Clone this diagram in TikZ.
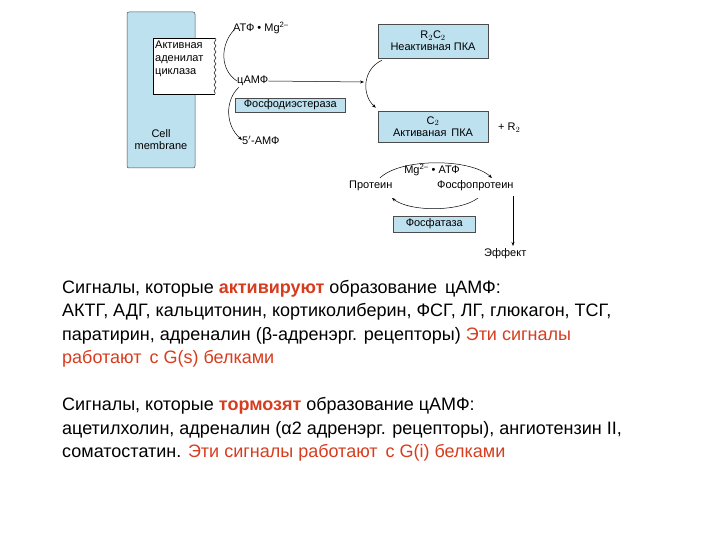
\documentclass[tikz,border=0pt]{standalone}
\usepackage{fontspec}
\setmainfont{Liberation Sans}
\usetikzlibrary{arrows.meta,decorations.pathmorphing,calc}
\definecolor{lb}{RGB}{190,225,240}
\definecolor{rd}{RGB}{215,60,30}
\begin{document}
\begin{tikzpicture}[x=1pt,y=-1pt,
 bx/.style={draw=black!70,fill=lb,line width=0.5pt},
 sm/.style={font=\fontsize{11}{12}\selectfont,inner sep=0pt},
 ar/.style={-{Stealth[length=4pt]},line width=0.5pt},
 big/.style={font=\fontsize{18}{23.5}\selectfont,align=left,anchor=north west,inner sep=0pt}]
\useasboundingbox (0,0) rectangle (720,540);
% membrane
\draw[bx,rounded corners=2pt] (127,12) rectangle (195,168);
\node[sm,align=center] (cm) at (161,140) {Cell\\membrane};
\fill[white] (153,38) rectangle (215,94);
\draw[line width=0.5pt] (215,38) -- (153,38) -- (153,94) -- (215,94);
\draw[line width=0.5pt,decorate,decoration={snake,amplitude=1pt,segment length=6pt}] (215,38) -- (215,94);
\node[sm,align=left,anchor=north west] (ac) at (155,41) {Активная\\[1pt]аденилат\\[1pt]циклаза};
% left chain
\node[sm,anchor=west] (atp) at (233,28) {АТФ • Mg\textsuperscript{2–}};
\node[sm,anchor=west] (camp) at (237,81) {цАМФ};
\node[sm,bx,anchor=west,inner xsep=3pt,inner ysep=2pt,minimum width=110pt] (pde) at (235,105) {Фосфодиэстераза};
\node[sm,anchor=west] (amp) at (242,140) {5$'$-АМФ};
\draw[line width=0.5pt] (234,30) .. controls (220,45) and (220,70) .. (camp.west);
\draw[ar] ($(camp.south west)+(2,1)$) .. controls (225,100) and (225,125) .. (amp.west);
% PKA
\node[sm,bx,align=center,minimum width=110pt,minimum height=34pt] (r2c2) at (433,41) {R$_2$C$_2$\\Неактивная ПКА};
\node[sm,bx,align=center,minimum width=110pt,minimum height=31pt] (c2) at (433,126.5) {C$_2$\\Активаная\, ПКА};
\node[sm,anchor=west] (r2) at (498,128) {+ R$_2$};
\coordinate (hit) at (364,82);
\draw[ar] (camp.east) -- (hit);
\draw[ar] ($(r2c2.south west)+(4,2)$) .. controls (362,70) and (362,95) .. ($(c2.north west)+(-2,-3)$);
% cycle
\node[sm,anchor=west] (prot) at (349,186) {Протеин};
\node[sm,anchor=west] (pp) at (437,186) {Фосфопротеин};
\node[sm] (mg) at (432,170) {Mg\textsuperscript{2–} • АТФ};
\node[sm,bx,inner xsep=3pt,inner ysep=3pt,minimum width=82pt,anchor=west] (ph) at (393,224) {Фосфатаза};
\node[sm,anchor=west] (eff) at (484,254) {Эффект};
\draw[ar] (380,178) .. controls (400,158) and (470,158) .. (492,178);
\draw[ar] (478,198) .. controls (460,212) and (410,212) .. (392,198);
\draw[ar] (513,196) -- (513,246);
% text
\node[big] (t1) at (62,280) {Сигналы, которые \textcolor{rd}{\textbf{активируют}} образование\, цАМФ:\\
АКТГ, АДГ, кальцитонин, кортиколиберин, ФСГ, ЛГ, глюкагон, ТСГ,\\
паратирин, адреналин (β-адренэрг. рецепторы) \textcolor{rd}{Эти сигналы}\\
\textcolor{rd}{работают\, с G(s) белками}\\[23.5pt]
Сигналы, которые \textcolor{rd}{\textbf{тормозят}} образование цАМФ:\\
ацетилхолин, адреналин (α2 адренэрг. рецепторы), ангиотензин II,\\
соматостатин. \textcolor{rd}{Эти сигналы работают\, с G(i) белками}};
\end{tikzpicture}
\end{document}
